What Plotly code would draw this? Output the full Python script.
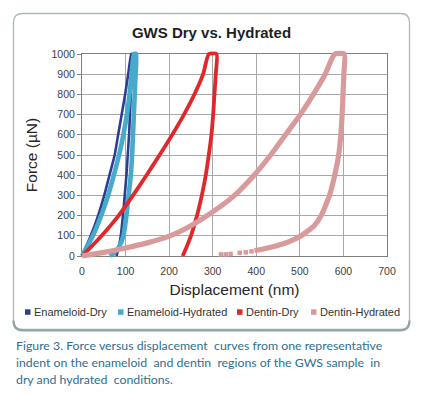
import plotly.graph_objects as go

# ---------------- data ----------------
SERIES_NAMES = ["Enameloid-Dry", "Enameloid-Hydrated", "Dentin-Dry", "Dentin-Hydrated"]
SERIES_COLORS = ["#2c3f8e", "#45aacb", "#e0282b", "#d99a9b"]

ENAMELOID_DRY_X = [0, 8, 20, 37, 51, 63, 75, 83, 91, 99, 106, 113, 115,
                   114, 112, 110, 108, 105, 102, 98, 94, 89, 84, 79]
ENAMELOID_DRY_Y = [0, 40, 100, 200, 300, 400, 500, 600, 700, 800, 900, 1000, 1000,
                   900, 800, 700, 600, 500, 400, 300, 200, 100, 40, 0]

ENAMELOID_HYD_X = [0, 10, 25, 44, 60, 73, 85, 95, 103, 109, 114, 119, 124,
                   123, 121, 119, 117, 115, 112, 107, 102, 95, 85, 73, 64]
ENAMELOID_HYD_Y = [0, 40, 100, 200, 300, 400, 500, 600, 700, 800, 900, 1000, 1000,
                   900, 800, 700, 600, 500, 400, 300, 200, 100, 45, 15, 0]

DENTIN_DRY_X = [0, 23, 45, 84, 117, 148, 178, 207, 234, 258, 278, 291, 309,
                307, 304, 301, 297, 291, 284, 275, 264, 250, 240, 231]
DENTIN_DRY_Y = [0, 50, 100, 200, 300, 400, 500, 600, 700, 800, 900, 1000, 1000,
                900, 800, 700, 600, 500, 400, 300, 200, 100, 45, 0]

DENTIN_HYD_X = [0, 50, 100, 150, 200, 250, 300, 350, 395, 433, 467, 501, 531, 558, 580, 602,
                601, 599, 597, 594, 589, 580, 568, 549, 533, 503, 474, 445, 418, 396]
DENTIN_HYD_Y = [0, 18, 40, 65, 98, 150, 218, 300, 400, 500, 600, 700, 800, 900, 1000, 1000,
                900, 800, 700, 600, 500, 400, 300, 200, 150, 100, 70, 50, 36, 27]
# sparse final points of the Dentin-Hydrated unloading tail
DENTIN_HYD_TAIL_X = [389, 376, 362, 341, 330, 319]
DENTIN_HYD_TAIL_Y = [23, 18, 16, 10, 8, 8]

X_TICKS = [0, 100, 200, 300, 400, 500, 600, 700]
Y_TICKS = [0, 100, 200, 300, 400, 500, 600, 700, 800, 900, 1000]

TITLE = "GWS Dry vs. Hydrated"
X_TITLE = "Displacement (nm)"
Y_TITLE = "Force (µN)"
CAPTION = [
    "Figure 3. Force versus displacement  curves from one representative",
    "indent on the enameloid  and dentin  regions of the GWS sample  in",
    "dry and hydrated  conditions.",
]

# ---------------- geometry ----------------
W, H = 423, 395
ML, MR, MT, MB = 70, 24, 42, 127
PX0, PX1 = 82, 387          # plot frame, pixels (left / right)
PY1, PY0 = 54, 256          # plot frame, pixels (top / bottom)
PW, PH = W - ML - MR, H - MT - MB


def fx(px):
    return (px - ML) / PW


def fy(py):
    return (H - MB - py) / PH


kx = (X_TICKS[-1] - X_TICKS[0]) / (PX1 - PX0)
ky = (Y_TICKS[-1] - Y_TICKS[0]) / (PY0 - PY1)
X2_RANGE = [X_TICKS[0] + (ML - PX0) * kx, X_TICKS[0] + (W - MR - PX0) * kx]
Y2_RANGE = [Y_TICKS[0] - ((H - MB) - PY0) * ky, Y_TICKS[0] + (PY0 - MT) * ky]

FONT = "Liberation Sans, Arial, sans-serif"
WIDTHS = [2.6, 4.6, 3.8, 5.2]

fig = go.Figure()
# invisible trace so the framed, gridded axes are drawn
fig.add_trace(go.Scatter(x=[None], y=[None], xaxis="x", yaxis="y", mode="lines",
                         showlegend=False, hoverinfo="skip"))
data = [(ENAMELOID_DRY_X, ENAMELOID_DRY_Y), (ENAMELOID_HYD_X, ENAMELOID_HYD_Y),
        (DENTIN_DRY_X, DENTIN_DRY_Y), (DENTIN_HYD_X, DENTIN_HYD_Y)]
for (xs, ys), name, col, w in zip(data, SERIES_NAMES, SERIES_COLORS, WIDTHS):
    fig.add_trace(go.Scatter(
        x=xs, y=ys, name=name, mode="lines",
        line=dict(color=col, width=w, shape="spline", smoothing=0.5),
        xaxis="x2", yaxis="y2", legendgroup=name, hoverinfo="x+y+name"))
fig.add_trace(go.Scatter(
    x=DENTIN_HYD_TAIL_X, y=DENTIN_HYD_TAIL_Y, name=SERIES_NAMES[3], mode="markers",
    marker=dict(color=SERIES_COLORS[3], size=4.5, symbol="square"),
    xaxis="x2", yaxis="y2", legendgroup=SERIES_NAMES[3], showlegend=False))

shapes = []
# chart container (rounded rectangle)
x0, y0, x1, y1, r = 13.5, 13.5, 409.5, 329.5, 9


def P(px, py):
    return f"{fx(px):.5f},{fy(py):.5f}"


path = (f"M {P(x0 + r, y0)} L {P(x1 - r, y0)} Q {P(x1, y0)} {P(x1, y0 + r)} "
        f"L {P(x1, y1 - r)} Q {P(x1, y1)} {P(x1 - r, y1)} L {P(x0 + r, y1)} "
        f"Q {P(x0, y1)} {P(x0, y1 - r)} L {P(x0, y0 + r)} Q {P(x0, y0)} {P(x0 + r, y0)} Z")
shapes.append(dict(type="path", path=path, xref="paper", yref="paper",
                   line=dict(color="#a9b8bd", width=1.3), layer="below"))
bottom = (f"M {P(x0, y1 - r)} Q {P(x0, y1 + 0.8)} {P(x0 + r, y1 + 0.8)} "
          f"L {P(x1 - r, y1 + 0.8)} Q {P(x1, y1 + 0.8)} {P(x1, y1 - r)}")
shapes.append(dict(type="path", path=bottom, xref="paper", yref="paper",
                   line=dict(color="#93a3a8", width=2.2), layer="below"))

annotations = []
# legend
LEG_SQ = [25, 118, 237, 311]
LEG_Y = 312
for sx, name, col in zip(LEG_SQ, SERIES_NAMES, SERIES_COLORS):
    shapes.append(dict(type="rect", xref="paper", yref="paper",
                       x0=fx(sx), x1=fx(sx + 5.5), y0=fy(LEG_Y + 2.8), y1=fy(LEG_Y - 2.7),
                       fillcolor=col, line=dict(width=0)))
    annotations.append(dict(text=name, x=fx(sx + 6.5), y=fy(LEG_Y), xref="paper", yref="paper",
                            xanchor="left", yanchor="middle", showarrow=False,
                            font=dict(family=FONT, size=11, color="#333333")))
# caption
for i, line in enumerate(CAPTION):
    annotations.append(dict(text=line, x=fx(14), y=fy(346 + 16.7 * i), xref="paper", yref="paper",
                            xanchor="left", yanchor="middle", showarrow=False,
                            font=dict(family="Lato, Liberation Sans, sans-serif", size=12.3,
                                      color="#2d6f8f")))

fig.update_layout(
    width=W, height=H,
    margin=dict(l=ML, r=MR, t=MT, b=MB),
    paper_bgcolor="white", plot_bgcolor="rgba(0,0,0,0)",
    showlegend=False,
    font=dict(family=FONT, color="#333333"),
    title=dict(text=f"<b>{TITLE}</b>", x=0.5, xref="container", xanchor="center",
               y=1 - 33 / H, yref="container", yanchor="middle",
               font=dict(family=FONT, size=15, color="#1f1f1f")),
    xaxis=dict(domain=[fx(PX0), fx(PX1)], range=[X_TICKS[0], X_TICKS[-1]],
               tickvals=X_TICKS, ticktext=[str(v) for v in X_TICKS],
               showgrid=True, gridcolor="#a8a8a8", gridwidth=1, zeroline=False,
               showline=True, linecolor="#7f7f7f", linewidth=1, mirror=True,
               ticks="outside", ticklen=5, tickcolor="rgba(0,0,0,0)",
               tickfont=dict(family=FONT, size=10.5, color="#404040"),
               title=dict(text=X_TITLE, standoff=8, font=dict(family=FONT, size=15.5, color="#262626")),
               anchor="y", fixedrange=True),
    yaxis=dict(domain=[fy(PY0), fy(PY1)], range=[Y_TICKS[0], Y_TICKS[-1]],
               tickvals=Y_TICKS, ticktext=[str(v) for v in Y_TICKS],
               showgrid=True, gridcolor="#a8a8a8", gridwidth=1, zeroline=False,
               showline=True, linecolor="#7f7f7f", linewidth=1, mirror=True,
               ticks="outside", ticklen=4, tickcolor="#7f7f7f",
               tickfont=dict(family=FONT, size=10.5, color="#404040"),
               title=dict(text=Y_TITLE, standoff=10, font=dict(family=FONT, size=15.5, color="#262626")),
               anchor="x", fixedrange=True),
    xaxis2=dict(domain=[0, 1], range=X2_RANGE, visible=False, anchor="y2", fixedrange=True),
    yaxis2=dict(domain=[0, 1], range=Y2_RANGE, visible=False, anchor="x2", fixedrange=True),
    shapes=shapes,
    annotations=annotations,
)

fig.write_html("out.html", config={"displayModeBar": False},
               post_script="document.body.style.margin='0';")
